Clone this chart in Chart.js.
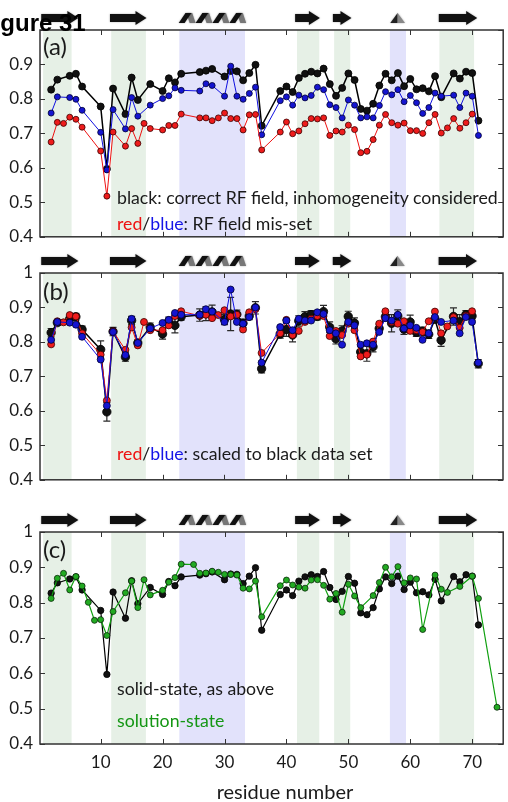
<!DOCTYPE html>
<html>
<head>
<meta charset="utf-8">
<script src="https://cdn.jsdelivr.net/npm/chart.js@4"></script>
<style>
  body { margin: 0; background: #fff; }
  #wrap { position: relative; width: 508px; height: 802px; overflow: hidden; font-family: Lato, sans-serif; }
  canvas { position: absolute; left: 0; }
  .note { position: absolute; left: 117px; font-size: 17.7px; line-height: 17px; color: #1a1a1a; white-space: nowrap; }
  .panel { position: absolute; left: 43px; font-size: 24px; line-height: 24px; color: #1a1a1a; }
  #fig { position: absolute; left: -21px; top: 11px; font: bold 24px "Liberation Sans", Arial, sans-serif; line-height: 24px; color: #000; white-space: nowrap; }
  #xtitle { position: absolute; left: 185px; width: 200px; top: 781px; text-align: center; font-size: 20px; line-height: 20px; color: #1a1a1a; }
  .r { color: #ee1111; }
  .b { color: #1414e6; }
  .g { color: #149614; }
</style>
</head>
<body>
<div id="wrap">
  <canvas id="chartA" width="508" height="254" style="top:0px"></canvas>
  <canvas id="chartB" width="508" height="245" style="top:252px"></canvas>
  <canvas id="chartC" width="508" height="305" style="top:497px"></canvas>
  <div id="fig">Figure 31</div>
  <div class="panel" style="top:34px">(a)</div>
  <div class="panel" style="top:279px">(b)</div>
  <div class="panel" style="top:537px">(c)</div>
  <div class="note" style="top:189px">black: correct RF field, inhomogeneity considered</div>
  <div class="note" style="top:215px"><span class="r">red</span>/<span class="b">blue</span>: RF field mis-set</div>
  <div class="note" style="top:445px"><span class="r">red</span>/<span class="b">blue</span>: scaled to black data set</div>
  <div class="note" style="top:680px">solid-state, as above</div>
  <div class="note g" style="top:712px">solution-state</div>
  <div id="xtitle">residue number</div>
</div>
<script>
// Axis ticks
const xTicks = [10, 20, 30, 40, 50, 60, 70];
const yTicks = [0.4, 0.5, 0.6, 0.7, 0.8, 0.9, 1];

// Shaded residue ranges (e = strand, h = helix)
const bands = [[0.7, 5.3, 'e'], [11.7, 17.3, 'e'], [22.7, 33.3, 'h'], [41.7, 45.3, 'e'], [47.7, 50.3, 'e'], [56.7, 59.3, 'h'], [64.7, 70.3, 'e']];
// Secondary structure cartoon above each panel
const strands = [[0.4, 6.4], [11.5, 17.4], [41.4, 45.4], [47.5, 50.5], [64.6, 70.8]];
const helices = [[22.6, 33.5]];
const turns = [[56.6, 59.3]];

// Solid-state (black) and blue series residues
const resBlack = [2, 3, 5, 6, 7, 10, 11, 12, 14, 15, 16, 18, 20, 21, 22, 23, 26, 27, 28, 30, 31, 32, 33, 34, 35, 36,
  39, 40, 41, 42, 43, 44, 45, 46, 47, 48, 49, 50, 51, 52, 53, 54, 55, 56, 57, 58, 59, 60, 61, 62, 63, 64, 65,
  67, 68, 69, 70, 71];
const solid = [.827, .856, .867, .873, .836, .778, .597, .830, .756, .862, .797, .843, .823, .860, .848, .873,
  .878, .882, .887, .865, .881, .880, .854, .875, .899, .722,
  .823, .836, .820, .861, .873, .879, .874, .888, .843, .809, .832, .874, .855, .771, .766, .786, .839, .873,
  .854, .875, .837, .858, .828, .831, .822, .866, .805,
  .874, .859, .879, .875, .737];
const errB = [.012, .008, .008, .010, .010, .025, .027, .012, .012, .012, .010, .012, .015, .012, .022, .010,
  .018, .020, .020, .015, .048, .012, .012, .010, .018, .012,
  .012, .020, .020, .015, .015, .012, .010, .018, .015, .015, .015, .015, .015, .015, .022, .015, .012, .012,
  .025, .018, .015, .020, .012, .012, .012, .010, .018,
  .025, .020, .012, .012, .012];
const blueA = [.759, .806, .804, .799, .767, .703, .594, .769, .713, .804, .750, .782, .801, .809, .832, .825,
  .823, .844, .839, .808, .895, .808, .799, .816, .834, .696,
  .795, .806, .782, .811, .803, .810, .834, .827, .783, .775, .745, .797, .782, .745, .748, .745, .781, .821,
  .812, .827, .792, .810, .789, .758, .775, .817, .808,
  .811, .775, .817, .808, .694];
const blueB = [.806, .858, .856, .850, .815, .749, .615, .829, .762, .867, .797, .839, .855, .864, .884, .879,
  .879, .895, .888, .858, .952, .858, .853, .872, .900, .740,
  .843, .862, .834, .867, .862, .862, .886, .881, .834, .825, .792, .858, .848, .792, .796, .792, .829, .869,
  .862, .879, .839, .848, .841, .806, .825, .872, .858,
  .862, .825, .872, .858, .740];

// Red series residues
const resRed = [2, 3, 4, 5, 6, 7, 10, 11, 12, 14, 15, 16, 17, 18, 20, 21, 22, 23, 26, 27, 28, 29, 30, 31, 32, 33, 34, 35, 36,
  39, 40, 41, 42, 43, 44, 45, 46, 47, 48, 49, 50, 51, 52, 53, 54, 55, 56, 57, 58, 59, 60, 61, 62, 63, 64, 65, 66, 67, 68, 69, 70];
const redA = [.675, .732, .729, .747, .741, .718, .649, .518, .704, .663, .714, .671, .729, .714, .710, .723, .723, .756,
  .745, .745, .737, .745, .759, .743, .743, .710, .754, .755, .652,
  .704, .733, .699, .707, .728, .743, .742, .745, .694, .707, .704, .724, .711, .644, .648, .682, .724, .755,
  .731, .724, .730, .708, .708, .700, .731, .755, .701, .716, .743, .715, .731, .756];
const redB = [.793, .860, .857, .878, .874, .825, .763, .630, .831, .777, .842, .790, .858, .834, .834, .848, .875, .889,
  .876, .879, .869, .878, .892, .874, .879, .836, .886, .895, .768,
  .825, .864, .820, .832, .858, .867, .875, .875, .817, .832, .820, .853, .834, .758, .763, .801, .853, .889,
  .858, .853, .860, .832, .834, .829, .860, .888, .825, .845, .872, .841, .876, .889];

// Solution-state (green) series
const resGreen = [2, 3, 4, 5, 6, 7, 8, 9, 10, 11, 12, 14, 15, 16, 17, 18, 20, 21, 22, 23, 25, 26, 27, 28, 29, 30, 31, 32, 33, 34, 35, 36,
  39, 40, 41, 42, 43, 44, 45, 46, 47, 48, 49, 50, 51, 52, 54, 55, 56, 57, 58, 59, 60, 61, 62, 64, 65, 66, 68, 70, 71, 74];
const solution = [.812, .869, .883, .836, .874, .847, .801, .750, .752, .707, .775, .828, .861, .786, .865, .822,
  .835, .858, .871, .909, .908, .883, .884, .889, .886, .880, .880, .878, .841, .839, .861, .760,
  .848, .864, .850, .844, .841, .864, .865, .849, .810, .826, .773, .852, .819, .786, .820, .857, .900, .873,
  .902, .856, .870, .867, .724, .878, .838, .829, .846, .875, .812, .504];

Chart.defaults.font.family = 'Lato, sans-serif';
Chart.defaults.color = '#1a1a1a';

function pts(xs, ys) {
  return xs.map((x, i) => ({ x: x, y: ys[i] }));
}

function series(label, data, line, fill, edge, r, w) {
  return {
    label: label,
    data: data,
    borderColor: line,
    borderWidth: w,
    backgroundColor: fill,
    pointBackgroundColor: fill,
    pointBorderColor: edge,
    pointBorderWidth: 0.8,
    pointRadius: r,
    tension: 0
  };
}

// bands, frame, cartoon and error bars
const decor = {
  id: 'decor',
  beforeDatasetsDraw(chart) {
    const { ctx, chartArea: a, scales: { x } } = chart;
    ctx.save();
    for (const b of bands) {
      const l = x.getPixelForValue(b[0]);
      const r = x.getPixelForValue(b[1]);
      ctx.fillStyle = b[2] == 'h' ? '#e2e2fb' : '#e6f0e6';
      ctx.fillRect(l, a.top, r - l, a.bottom - a.top);
    }
    ctx.restore();
  },
  beforeDatasetDraw(chart, args, opts) {
    if (!opts.err || chart.data.datasets[args.index].label != 'black') return;
    const { ctx, scales: { x, y } } = chart;
    ctx.save();
    ctx.strokeStyle = '#2a2a2a';
    ctx.lineWidth = 1.2;
    resBlack.forEach((res, i) => {
      const px = x.getPixelForValue(res);
      const top = y.getPixelForValue(solid[i] + opts.err[i]);
      const bot = y.getPixelForValue(solid[i] - opts.err[i]);
      ctx.beginPath();
      ctx.moveTo(px, top); ctx.lineTo(px, bot);
      ctx.moveTo(px - 3.5, top); ctx.lineTo(px + 3.5, top);
      ctx.moveTo(px - 3.5, bot); ctx.lineTo(px + 3.5, bot);
      ctx.stroke();
    });
    ctx.restore();
  },
  afterDraw(chart) {
    const { ctx, chartArea: a, scales: { x, y } } = chart;
    ctx.save();
    ctx.strokeStyle = '#333';
    ctx.lineWidth = 1.5;
    ctx.strokeRect(a.left, a.top, a.right - a.left, a.bottom - a.top);
    ctx.beginPath();
    for (const t of yTicks) {
      const py = Math.round(y.getPixelForValue(t)) + 0.5;
      ctx.moveTo(a.left, py); ctx.lineTo(a.left + 5, py);
      ctx.moveTo(a.right, py); ctx.lineTo(a.right - 5, py);
    }
    for (const t of xTicks) {
      const px = Math.round(x.getPixelForValue(t)) + 0.5;
      ctx.moveTo(px, a.bottom); ctx.lineTo(px, a.bottom - 5);
      ctx.moveTo(px, a.top); ctx.lineTo(px, a.top + 5);
    }
    ctx.lineWidth = 1;
    ctx.stroke();

    // cartoon
    const cy = a.top - 12;
    ctx.shadowColor = 'rgba(0,0,0,0.35)';
    ctx.shadowBlur = 2;
    ctx.fillStyle = '#111';
    for (const s of strands) {
      const l = x.getPixelForValue(s[0]);
      const r = x.getPixelForValue(s[1]);
      const head = 11;
      ctx.beginPath();
      ctx.moveTo(l, cy - 4);
      ctx.lineTo(r - head, cy - 4);
      ctx.lineTo(r - head, cy - 7);
      ctx.lineTo(r, cy);
      ctx.lineTo(r - head, cy + 7);
      ctx.lineTo(r - head, cy + 4);
      ctx.lineTo(l, cy + 4);
      ctx.closePath();
      ctx.fill();
    }
    for (const h of helices) {
      const l = x.getPixelForValue(h[0]);
      const r = x.getPixelForValue(h[1]);
      const n = 4;
      const w = (r - l) / n;
      for (let i = 0; i < n; i++) {
        const x0 = l + i * w;
        ctx.fillStyle = '#777';
        ctx.beginPath();
        ctx.moveTo(x0 + w * 0.45, cy - 5);
        ctx.lineTo(x0 + w * 0.8, cy - 5);
        ctx.lineTo(x0 + w * 1.0, cy + 5);
        ctx.lineTo(x0 + w * 0.65, cy + 5);
        ctx.closePath();
        ctx.fill();
        ctx.fillStyle = '#111';
        ctx.beginPath();
        ctx.moveTo(x0, cy + 5);
        ctx.lineTo(x0 + w * 0.4, cy - 5);
        ctx.lineTo(x0 + w * 0.75, cy - 5);
        ctx.lineTo(x0 + w * 0.35, cy + 5);
        ctx.closePath();
        ctx.fill();
      }
    }
    for (const t of turns) {
      const l = x.getPixelForValue(t[0]);
      const r = x.getPixelForValue(t[1]);
      const m = (l + r) / 2;
      ctx.fillStyle = '#222';
      ctx.beginPath();
      ctx.moveTo(l + 1, cy + 5); ctx.lineTo(m, cy - 5); ctx.lineTo(m, cy + 5);
      ctx.closePath(); ctx.fill();
      ctx.fillStyle = '#888';
      ctx.beginPath();
      ctx.moveTo(m, cy - 5); ctx.lineTo(r - 1, cy + 5); ctx.lineTo(m, cy + 5);
      ctx.closePath(); ctx.fill();
    }
    ctx.restore();
  }
};

function makeChart(id, datasets, pad, showX, hideTop, err) {
  return new Chart(document.getElementById(id), {
    type: 'line',
    data: { datasets: datasets },
    plugins: [decor],
    options: {
      responsive: false,
      animation: false,
      devicePixelRatio: 1,
      layout: { padding: pad },
      plugins: { legend: { display: false }, tooltip: { enabled: false }, decor: { err: err } },
      scales: {
        x: {
          type: 'linear', min: 0.2, max: 75,
          display: showX,
          grid: { display: false, drawTicks: false },
          border: { display: false },
          ticks: { stepSize: 10, includeBounds: false, padding: 8, font: { size: 17 }, color: '#1a1a1a' },
          afterFit(s) { s.height = showX ? 58 : 0; }
        },
        y: {
          min: 0.4, max: 1,
          grid: { display: false, drawTicks: false },
          border: { display: false },
          ticks: {
            stepSize: 0.1, padding: 7, font: { size: 17 }, color: '#1a1a1a',
            callback(v) {
              if (Math.abs(v - 1) < 1e-6) return hideTop ? '' : '1';
              return v.toFixed(1);
            }
          },
          afterFit(s) { s.width = 40; }
        }
      }
    }
  });
}

makeChart('chartA', [
  series('red', pts(resRed, redA), '#ee1111', '#ee1c1c', '#3a0000', 3, 1),
  series('blue', pts(resBlack, blueA), '#1010e0', '#1515d0', '#000030', 3, 1),
  series('black', pts(resBlack, solid), '#000', '#111', '#000', 3.5, 1.5)
], { top: 30, bottom: 12, right: 1, left: 0 }, false, true, null);

makeChart('chartB', [
  series('blue', pts(resBlack, blueB), '#1010e0', '#1515d0', '#000030', 3.5, 1),
  series('red', pts(resRed, redB), '#ee1111', '#ee1c1c', '#3a0000', 3.5, 1),
  series('black', pts(resBlack, solid), '#000', '#111', '#000', 4.2, 1.5)
], { top: 21, bottom: 12, right: 1, left: 0 }, false, false, errB);

makeChart('chartC', [
  series('green', pts(resGreen, solution), '#10a010', '#22aa22', '#0a2a0a', 3, 1.2),
  series('black', pts(resBlack, solid), '#000', '#111', '#000', 3.2, 1.2)
], { top: 35, bottom: 0, right: 1, left: 0 }, true, false, null);
</script>
</body>
</html>
